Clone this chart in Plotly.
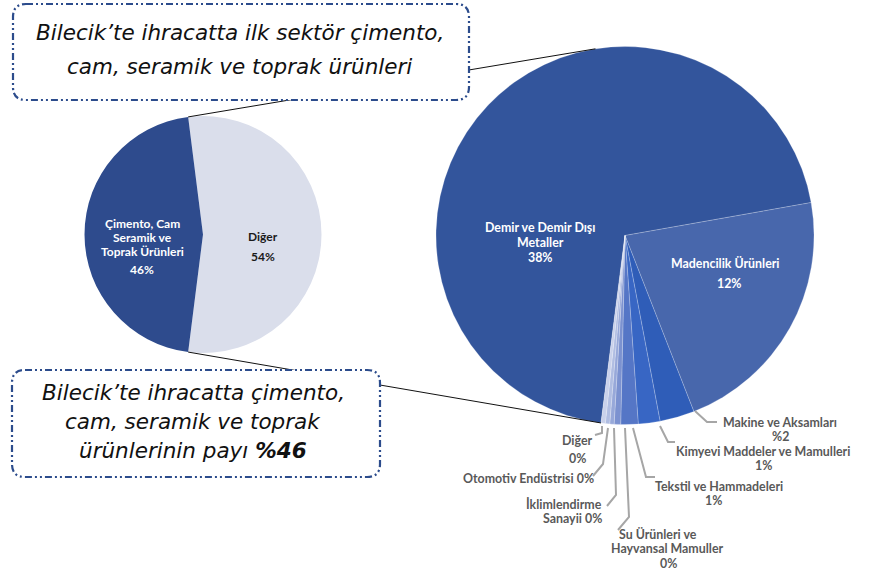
import math
import plotly.graph_objects as go

W, H = 869, 570

# Bilecik export shares (% of total exports)
overview_labels = ["Diğer", "Çimento, Cam Seramik ve Toprak Ürünleri"]
overview_values = [54, 46]

# Breakdown of the "Diğer" share by sector (% of total exports)
sector_labels = [
    "Demir ve Demir Dışı Metaller",
    "Madencilik Ürünleri",
    "Makine ve Aksamları",
    "Kimyevi Maddeler ve Mamulleri",
    "Tekstil ve Hammadeleri",
    "Su Ürünleri ve Hayvansal Mamuller",
    "İklimlendirme Sanayii",
    "Otomotiv Endüstrisi",
    "Diğer",
]
sector_values = [37.9, 11.8, 1.6, 1.0, 0.8, 0.3, 0.2, 0.2, 0.2]

callout_top = "Bilecik’te ihracatta ilk sektör çimento,<br>cam, seramik ve toprak ürünleri"
callout_bottom_lines = ["Bilecik’te ihracatta çimento,", "cam, seramik ve toprak", "ürünlerinin payı"]

# ---- colours / geometry -------------------------------------------------
overview_colors = ["#dadeeb", "#2e4b8d"]
sector_colors = ["#33559c", "#4867ac", "#2f5db8", "#3866c4", "#5576c6",
                 "#7c92d0", "#97a8d9", "#b0bde2", "#c9d1eb"]

SMALL = dict(cx=203, cy=234.5, r=118.5, rot=-7.2)
BIG = dict(cx=625, cy=235.5, r=189, rot=-172.7)

CALLOUT_FONT = dict(family="DejaVu Sans", size=21.5, color="#111111", style="italic", weight="normal")
LABEL_FONT = "Lato"


def px(x):
    return x / W


def py(y):
    return 1 - y / H


def domain(c):
    return dict(x=[px(c["cx"] - c["r"]), px(c["cx"] + c["r"])],
                y=[py(c["cy"] + c["r"]), py(c["cy"] - c["r"])])


def on_circle(c, ang):
    a = math.radians(ang)
    return c["cx"] + c["r"] * math.sin(a), c["cy"] - c["r"] * math.cos(a)


fig = go.Figure()

fig.add_trace(go.Pie(
    labels=overview_labels, values=overview_values, sort=False,
    direction="clockwise", rotation=SMALL["rot"], domain=domain(SMALL),
    marker=dict(colors=overview_colors, line=dict(width=0)),
    textinfo="none", hoverinfo="label+percent", showlegend=False,
))

fig.add_trace(go.Pie(
    labels=sector_labels, values=sector_values, sort=False,
    direction="clockwise", rotation=BIG["rot"], domain=domain(BIG),
    marker=dict(colors=sector_colors, line=dict(width=0.6, color="rgba(255,255,255,0.35)")),
    textinfo="none", hoverinfo="label+value", showlegend=False,
))

shapes = []

# connector lines from the split of the small pie to the big pie
tot_small = sum(overview_values)
split_a = SMALL["rot"]
split_b = SMALL["rot"] + 360 * overview_values[0] / tot_small
for a_small, a_big in ((split_a, -9.0), (split_b, BIG["rot"] + 360)):
    x0, y0 = on_circle(SMALL, a_small)
    x1, y1 = on_circle(BIG, a_big)
    shapes.append(dict(type="line", xref="paper", yref="paper",
                       x0=px(x0), y0=py(y0), x1=px(x1), y1=py(y1),
                       line=dict(color="#111111", width=1)))


def rounded_box(x0, y0, x1, y1, r):
    pts = [
        f"M{px(x0 + r)},{py(y0)}", f"L{px(x1 - r)},{py(y0)}",
        f"Q{px(x1)},{py(y0)} {px(x1)},{py(y0 + r)}", f"L{px(x1)},{py(y1 - r)}",
        f"Q{px(x1)},{py(y1)} {px(x1 - r)},{py(y1)}", f"L{px(x0 + r)},{py(y1)}",
        f"Q{px(x0)},{py(y1)} {px(x0)},{py(y1 - r)}", f"L{px(x0)},{py(y0 + r)}",
        f"Q{px(x0)},{py(y0)} {px(x0 + r)},{py(y0)}", "Z",
    ]
    return dict(type="path", xref="paper", yref="paper", path=" ".join(pts),
                fillcolor="white",
                line=dict(color="#2c4c8c", width=2.2, dash="7px,3px,2px,3px,2px,3px"))


shapes.append(rounded_box(13, 4, 469, 100, 13))
shapes.append(rounded_box(12, 370, 380, 477, 13))

# leader lines for the thin slices
leaders = {
    "Makine ve Aksamları": [(695, 411), (707, 422), (717, 422)],
    "Kimyevi Maddeler ve Mamulleri": [(660, 426), (668, 442), (675, 442)],
    "Tekstil ve Hammadeleri": [(633, 428), (646, 477), (655, 477)],
    "Su Ürünleri ve Hayvansal Mamuller": [(625, 428), (629, 517), (618, 530)],
    "İklimlendirme Sanayii": [(614, 428), (616, 495), (607, 506)],
    "Otomotiv Endüstrisi": [(608, 428), (603, 464), (593, 476)],
    "Diğer": [(602, 426), (602, 433), (595, 435)],
}
for pts in leaders.values():
    path = "M" + " L".join(f"{px(x)},{py(y)}" for x, y in pts)
    shapes.append(dict(type="path", xref="paper", yref="paper", path=path,
                       line=dict(color="#a6a6a6", width=2)))

annotations = []


def text(x, y, s, color, size=12.4, anchor="center"):
    annotations.append(dict(
        xref="paper", yref="paper", x=px(x), y=py(y), text=s, showarrow=False,
        xanchor=anchor, yanchor="middle", align=anchor,
        font=dict(family=LABEL_FONT, size=size, color=color, weight="bold"),
    ))


def label_lines(name, split, pct_text, inline):
    words = name.split()
    lines, i = [], 0
    for n in split:
        lines.append(" ".join(words[i:i + n]))
        i += n
    if inline:
        lines[-1] += " " + pct_text
    else:
        lines.append(pct_text)
    return lines


# label layout: words per line, percent inline?, line positions, anchor
overview_layout = {
    "Diğer": ([1], False, [(263, 237), (263, 256)], "center"),
    "Çimento, Cam Seramik ve Toprak Ürünleri": ([2, 2, 2], False,
        [(142, 223.5), (142, 237.5), (142, 251.5), (142, 269.5)], "center"),
}
for lab, val in zip(overview_labels, overview_values):
    split, inline, pos, anchor = overview_layout[lab]
    color = "#1a1a1a" if lab == "Diğer" else "white"
    for s, (x, y) in zip(label_lines(lab, split, f"{val:.0f}%", inline), pos):
        text(x, y, s, color, size=12.0, anchor=anchor)

sector_layout = {
    "Demir ve Demir Dışı Metaller": ([4, 1], False, [(540, 227.5), (540, 242), (540, 257)], "center", "white"),
    "Madencilik Ürünleri": ([2], False, [(725, 263), (729, 283)], "center", "white"),
    "Makine ve Aksamları": ([3], False, [(780, 422), (780, 436)], "center", "#595959"),
    "Kimyevi Maddeler ve Mamulleri": ([4], False, [(763, 451.5), (763, 465.5)], "center", "#595959"),
    "Tekstil ve Hammadeleri": ([3], False, [(719, 486), (713, 500.5)], "center", "#595959"),
    "Su Ürünleri ve Hayvansal Mamuller": ([3, 2], False, [(658, 534), (667, 548.5), (668, 563)], "center", "#595959"),
    "İklimlendirme Sanayii": ([1, 1], True, [(604, 504), (604, 518.5)], "right", "#595959"),
    "Otomotiv Endüstrisi": ([2], True, [(528, 479)], "center", "#595959"),
    "Diğer": ([1], False, [(577, 440), (577, 458)], "center", "#595959"),
}
for lab, val in zip(sector_labels, sector_values):
    split, inline, pos, anchor, color = sector_layout[lab]
    pct = f"%{val:.0f}" if lab == "Makine ve Aksamları" else f"{val:.0f}%"
    for s, (x, y) in zip(label_lines(lab, split, pct, inline), pos):
        text(x, y, s, color, anchor=anchor)

# callout texts
for s, y in zip(callout_top.split("<br>"), (33, 66)):
    annotations.append(dict(
        xref="paper", yref="paper", x=px(240), y=py(y), text=s, showarrow=False,
        xanchor="center", yanchor="middle", align="center", font=CALLOUT_FONT,
    ))
share = overview_values[overview_labels.index("Çimento, Cam Seramik ve Toprak Ürünleri")]
for s, y in zip(callout_bottom_lines, (392, 421, 450)):
    if s == callout_bottom_lines[-1]:
        s = f"{s} <b>%{share}</b>"
    annotations.append(dict(
        xref="paper", yref="paper", x=px(193), y=py(y), text=s, showarrow=False,
        xanchor="center", yanchor="middle", align="center", font=CALLOUT_FONT,
    ))

fig.update_layout(
    width=W, height=H, margin=dict(l=0, r=0, t=0, b=0),
    paper_bgcolor="white", plot_bgcolor="white",
    shapes=shapes, annotations=annotations, showlegend=False,
)

fig.write_html("out.html")
